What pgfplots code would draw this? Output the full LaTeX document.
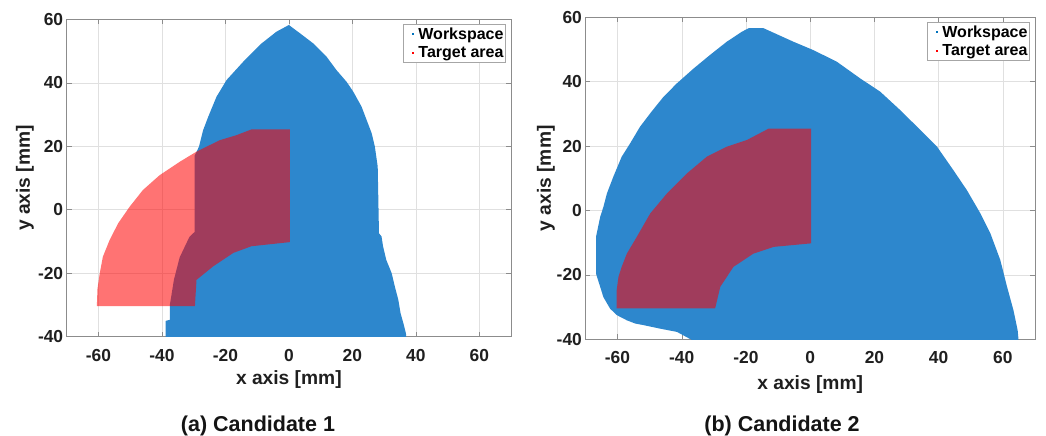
\documentclass[border=0pt]{standalone}
\usepackage{pgfplots}
\usepackage{pgfplotstable}
\pgfplotsset{compat=1.18}
\usepackage{fontspec}
\setmainfont{Liberation Sans}
\definecolor{wsblue}{RGB}{0,114,189}
\definecolor{wsfill}{RGB}{45,135,205}
\definecolor{tared}{RGB}{255,0,0}

% Workspace, candidate 1 (boundary of the point cloud)
\pgfplotstableread{
x y
0 58.2
3.5 55.6
7.7 52.4
11.9 48.2
15.0 44.0
18.2 40.3
20.3 37.2
22.9 32.5
24.5 28.3
26.1 24.1
27.1 19.9
28.0 13.6
28.2 3.1
28.4 -7.4
29.2 -8.4
29.7 -11.6
30.7 -15.8
32.4 -20.0
33.4 -24.2
34.5 -28.4
35.2 -32.6
36.1 -35.8
36.9 -39.0
37.0 -40.5
-38.8 -40.5
-38.8 -35.0
-37.5 -34.7
-37.5 -30.0
-36.2 -22.0
-34.4 -15.0
-31.3 -8.5
-29.7 -7.0
-29.7 17.0
-29.3 17.8
-28.3 19.9
-27.0 25.1
-25.4 29.3
-22.8 35.6
-19.6 40.9
-14.4 46.6
-8.6 52.4
-3.9 56.1
}\wsA

% Target area, candidate 1
\pgfplotstableread{
x y
0.3 25.3
-11.8 25.3
-16.5 23.5
-21.8 21.9
-29.1 18.3
-34.4 15.1
-40.7 10.9
-46.0 6.2
-50.2 0.9
-53.8 -4.3
-56.5 -9.6
-58.6 -14.8
-59.6 -20.1
-60.3 -25.0
-60.5 -30.4
-29.6 -30.4
-29.1 -22.1
-23.8 -17.8
-17.5 -13.6
-11.8 -11.5
0.3 -10.2
}\taA

% Workspace, candidate 2
\pgfplotstableread{
x y
-19.2 56.6
-14.5 56.6
-11.4 55.2
-5.2 52.4
1.0 49.8
8.3 46.2
15.6 41.0
21.8 36.9
28.0 31.2
34.3 25.0
39.5 19.8
44.6 12.5
48.8 6.3
53.0 -0.9
56.1 -7.1
59.2 -15.4
61.3 -23.7
63.3 -31.0
64.6 -37.2
64.9 -40.5
-36.3 -40.5
-41.5 -37.7
-46.7 -36.7
-51.9 -35.6
-54.5 -35.1
-57.1 -34.1
-60.2 -32.5
-62.3 -30.5
-64.4 -26.9
-65.4 -23.7
-66.7 -19.6
-66.7 -8.2
-65.4 -2.0
-64.4 1.1
-63.3 5.3
-61.3 10.5
-58.7 16.7
-56.1 20.8
-53.0 26.0
-49.8 30.2
-45.7 35.3
-41.5 39.5
-36.3 44.1
-31.2 48.3
-26.0 52.4
-21.3 55.5
}\wsB

% Target area, candidate 2
\pgfplotstableread{
x y
0.3 25.4
-13.0 25.4
-19.7 21.9
-26.0 19.8
-32.2 16.7
-38.4 11.5
-44.6 5.3
-49.8 -0.9
-54.0 -8.2
-57.1 -13.4
-58.7 -17.5
-59.7 -20.6
-60.3 -25.0
-60.3 -30.4
-29.6 -30.4
-28.0 -23.7
-23.9 -17.5
-17.7 -13.4
-11.4 -11.3
0.3 -10.2
}\taB

\pgfplotsset{
  wsaxis/.style={
    scale only axis,
    xmin=-70, xmax=70, ymin=-40, ymax=60,
    xtick={-60,-40,...,60}, ytick={-40,-20,...,60},
    grid=major,
    major grid style={black!12, line width=0.5pt},
    tick align=inside,
    major tick length=5pt,
    axis line style={black!45, line width=0.6pt},
    tick style={black!45, line width=0.5pt},
    tick label style={font=\fontsize{17.4}{20}\selectfont\bfseries, text=black!88},
    /pgf/number format/assume math mode=true,
    xticklabel style={anchor=center, yshift=-18.5pt},
    label style={font=\fontsize{19.2}{22}\selectfont\bfseries, text=black!88},
    xlabel={x axis [mm]}, ylabel={y axis [mm]},
    legend style={font=\fontsize{16}{20}\selectfont\bfseries, draw=black!35,
      at={(1,1)}, anchor=north east, xshift=-5.3pt, yshift=-4.7pt,
      inner xsep=0pt, inner ysep=1.5pt, row sep=1.5pt,
      /tikz/every even column/.append style={column sep=0pt}},
    legend cell align=left,
    legend image code/.code={\path[draw=none,fill=none] (0pt,-1pt) rectangle (13pt,1pt);
      \fill[draw=none] (8.7pt,-1pt) rectangle (10.5pt,0.8pt);},
    ws/.style={draw=none, fill=wsfill, forget plot},
    ta/.style={draw=none, fill=tared, fill opacity=0.55, forget plot},
  }
}

\begin{document}
\begin{tikzpicture}
\path[use as bounding box] (0,0) rectangle (1046pt,-436pt);

\begin{axis}[wsaxis,
  at={(66.7pt,-336.7pt)}, anchor=south west,
  width=444.3pt, height=317.4pt,
  xlabel style={at={(axis description cs:0.5,-0.1348)}, anchor=center},
  ylabel style={at={(axis description cs:-0.0939,0.5)}, anchor=center},
]
\addplot[ws] table {\wsA} -- cycle;
\addplot[ta] table {\taA} -- cycle;
\addlegendimage{color=wsblue, fill=wsblue}
\addlegendentry{Workspace}
\addlegendimage{color=tared, fill=tared}
\addlegendentry{Target area}
\end{axis}

\begin{axis}[wsaxis,
  at={(585.4pt,-339.3pt)}, anchor=south west,
  width=449.6pt, height=322pt,
  xlabel style={at={(axis description cs:0.5,-0.1394)}, anchor=center},
  ylabel style={at={(axis description cs:-0.0876,0.5)}, anchor=center},
]
\addplot[ws] table {\wsB} -- cycle;
\addplot[ta] table {\taB} -- cycle;
\addlegendimage{color=wsblue, fill=wsblue}
\addlegendentry{Workspace}
\addlegendimage{color=tared, fill=tared}
\addlegendentry{Target area}
\end{axis}

\node[font=\fontsize{21.5}{24}\selectfont\bfseries, text=black!92, anchor=base] at (258pt,-431.5pt) {(a) Candidate 1};
\node[font=\fontsize{21.5}{24}\selectfont\bfseries, text=black!92, anchor=base] at (782pt,-431.5pt) {(b) Candidate 2};
\end{tikzpicture}
\end{document}
